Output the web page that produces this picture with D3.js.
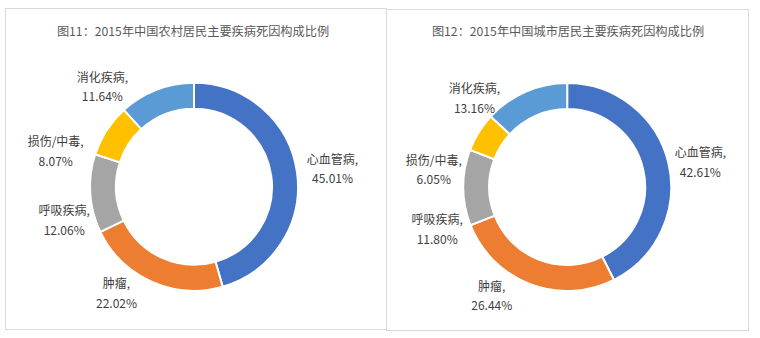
<!DOCTYPE html>
<html>
<head>
<meta charset="utf-8">
<script src="https://cdn.jsdelivr.net/npm/d3@7/dist/d3.min.js"></script>
<style>
  html, body { margin: 0; padding: 0; background: #ffffff; }
  svg { display: block; font-family: "Noto Sans CJK SC", "Noto Sans", sans-serif; }
</style>
</head>
<body>
<svg id="chart" width="760" height="338"></svg>
<script>
// Causes of death, shared by both doughnuts
const causes = ["心血管病", "肿瘤", "呼吸疾病", "损伤/中毒", "消化疾病"];
const colors = ["#4472C4", "#ED7D31", "#A5A5A5", "#FFC000", "#5B9BD5"];

// Share of deaths (%), 2015
const ruralValues = [45.01, 22.02, 12.06, 8.07, 11.64];
const urbanValues = [42.61, 26.44, 11.80, 6.05, 13.16];

const ruralTitle = "图11：2015年中国农村居民主要疾病死因构成比例";
const urbanTitle = "图12：2015年中国城市居民主要疾病死因构成比例";

// Panel layout: frame, ring centre and label nudges (px from the slice's outer mid point)
const panels = [
  {
    title: ruralTitle, values: ruralValues,
    frame: { x: 5.5, y: 8.5, w: 381, h: 321 },
    cx: 194, cy: 186.7, titleX: 193, titleY: 32,
    nudges: [[35.5, -3], [-35, 12], [-26, 27], [-51, 21.5], [-54, -2.5]]
  },
  {
    title: urbanTitle, values: urbanValues,
    frame: { x: 386.5, y: 9.5, w: 362, h: 321 },
    cx: 567.2, cy: 187, titleX: 568, titleY: 32,
    nudges: [[32, 0], [-38.4, 12], [-26, 42.4], [-45, 38], [-51, 7]]
  }
];

const outerR = 104, innerR = 78;
const svg = d3.select("#chart");

const pie = d3.pie().sort(null).value(d => d.value);
const arc = d3.arc().innerRadius(innerR).outerRadius(outerR);
const fmt = d3.format(".2f");

panels.forEach(p => {
  svg.append("rect")
    .attr("x", p.frame.x).attr("y", p.frame.y)
    .attr("width", p.frame.w).attr("height", p.frame.h)
    .attr("fill", "#ffffff").attr("stroke", "#d9d9d9").attr("stroke-width", 1);
});

panels.forEach(p => {
  svg.append("text")
    .attr("x", p.titleX).attr("y", p.titleY)
    .attr("text-anchor", "middle").attr("dy", "0.35em")
    .attr("font-size", 12.2).attr("fill", "#595959")
    .text(p.title);

  const data = causes.map((c, i) => ({ cause: c, value: p.values[i], color: colors[i] }));
  const arcs = pie(data);

  const g = svg.append("g").attr("transform", `translate(${p.cx},${p.cy})`);
  g.selectAll("path").data(arcs).join("path")
    .attr("d", arc)
    .attr("fill", d => d.data.color)
    .attr("stroke", "#ffffff")
    .attr("stroke-width", 2);

  const labels = g.selectAll("g.lbl").data(arcs).join("g").attr("class", "lbl")
    .attr("transform", (d, i) => {
      const a = (d.startAngle + d.endAngle) / 2;
      const x = outerR * Math.sin(a) + p.nudges[i][0];
      const y = -outerR * Math.cos(a) + p.nudges[i][1];
      return `translate(${x},${y})`;
    });

  labels.append("text")
    .attr("text-anchor", "middle").attr("y", -9.75).attr("dy", "0.35em")
    .attr("font-size", 12).attr("fill", "#404040")
    .text(d => d.data.cause + ",");
  labels.append("text")
    .attr("text-anchor", "middle").attr("y", 9.75).attr("dy", "0.35em")
    .attr("font-size", 12).attr("fill", "#404040")
    .text(d => fmt(d.data.value) + "%");
});
</script>
</body>
</html>
